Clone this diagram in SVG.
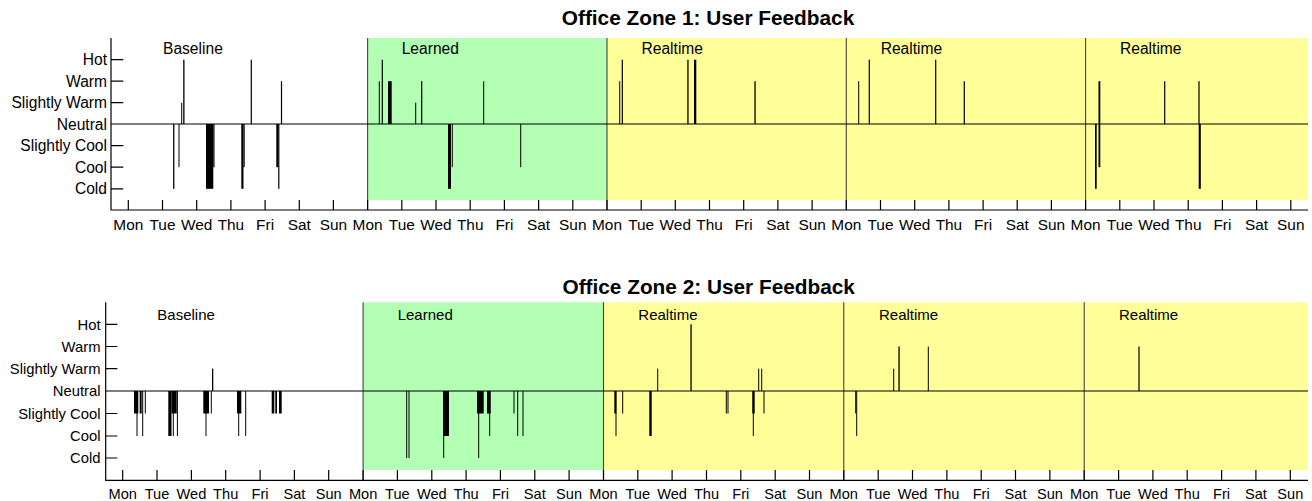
<svg xmlns="http://www.w3.org/2000/svg" width="1312" height="501" viewBox="0 0 1312 501">
<style>
text{font-family:"Liberation Sans",Arial,sans-serif;fill:#000}
.title{font-weight:bold;font-size:20.8px;text-anchor:middle}
.yl1{font-size:15.6px;text-anchor:end}
.xl1{font-size:15.4px;text-anchor:middle}
.yl2{font-size:14.8px;text-anchor:end}
.xl2{font-size:14.6px;text-anchor:middle}
.ph1{font-size:15.6px}
.ph2{font-size:15px}
.ax{stroke:#000;stroke-width:1.2;fill:none}
.sep{stroke:#444;stroke-width:1.1;fill:none}
.green{fill:#b3ffb3}
.yellow{fill:#ffff99}
.bars rect{fill:#000}
</style>

<g id="zone1">
  <text class="title" x="708" y="25">Office Zone 1: User Feedback</text>
  <g id="zone1-bg">
    <rect class="green" x="367.6" y="38" width="239.4" height="162"/>
    <rect class="yellow" x="607" y="38" width="701" height="162"/>
  </g>
  <g id="zone1-phases">
    <text class="ph1" x="163" y="54">Baseline</text>
    <text class="ph1" x="401.7" y="54">Learned</text>
    <text class="ph1" x="641.5" y="54">Realtime</text>
    <text class="ph1" x="880.7" y="54">Realtime</text>
    <text class="ph1" x="1120" y="54">Realtime</text>
  </g>
  <g id="zone1-bars" class="bars">
    <rect x="173.1" y="124" width="1.3" height="64.8"/>
    <rect x="178.5" y="124" width="1" height="43.2"/>
    <rect x="181.2" y="102.7" width="1" height="21.3"/>
    <rect x="183.2" y="59.7" width="1.3" height="64.3"/>
    <rect x="206" y="124" width="7.3" height="64.8"/>
    <rect x="213.3" y="124" width="1.2" height="43.2"/>
    <rect x="241.3" y="124" width="2.2" height="64.8"/>
    <rect x="243.5" y="124" width="1.2" height="43.2"/>
    <rect x="250.7" y="59.7" width="1.2" height="64.3"/>
    <rect x="276.3" y="124" width="2" height="43.2"/>
    <rect x="278.2" y="124" width="1.2" height="64.8"/>
    <rect x="280.9" y="81.2" width="1.2" height="42.8"/>
    <rect x="378.8" y="81.2" width="1" height="42.8"/>
    <rect x="381.7" y="59.7" width="1.2" height="64.3"/>
    <rect x="388" y="81.2" width="3.7" height="42.8"/>
    <rect x="415.2" y="102.7" width="1" height="21.3"/>
    <rect x="421" y="81.2" width="1.3" height="42.8"/>
    <rect x="448" y="124" width="3" height="64.8"/>
    <rect x="451.8" y="124" width="1" height="43.2"/>
    <rect x="483.2" y="81.2" width="1" height="42.8"/>
    <rect x="520.2" y="124" width="1" height="43.2"/>
    <rect x="619.2" y="81.2" width="1" height="42.8"/>
    <rect x="621.7" y="59.7" width="1.2" height="64.3"/>
    <rect x="687.3" y="59.7" width="1.3" height="64.3"/>
    <rect x="694" y="59.7" width="2.3" height="64.3"/>
    <rect x="754.4" y="81.2" width="1.3" height="42.8"/>
    <rect x="858.2" y="81.2" width="1" height="42.8"/>
    <rect x="868.7" y="59.7" width="1.2" height="64.3"/>
    <rect x="935.1" y="59.7" width="1.2" height="64.3"/>
    <rect x="963.7" y="81.2" width="1.2" height="42.8"/>
    <rect x="1095" y="124" width="1.7" height="64.8"/>
    <rect x="1098.5" y="81.2" width="1.8" height="86"/>
    <rect x="1164.1" y="81.2" width="1.2" height="42.8"/>
    <rect x="1198.4" y="81.2" width="1.2" height="42.8"/>
    <rect x="1198.7" y="124" width="2.1" height="64.8"/>
  </g>
  <g id="zone1-axes">
    <path class="sep" d="M367.6 38V210M607 38V210M846.3 38V210M1085.6 38V210"/>
    <path class="ax" d="M111 38V210H1308M111 124H1308"/>
    <path class="ax" d="M111 59.7H123.3M111 81.2H123.3M111 102.7H123.3M111 145.6H123.3M111 167.2H123.3M111 188.8H123.3"/>
    <path class="ax" d="M128.3 200V210M162.5 200V210M196.7 200V210M230.9 200V210M265.1 200V210M299.3 200V210M333.4 200V210M367.6 200V210M401.8 200V210M436 200V210M470.2 200V210M504.4 200V210M538.6 200V210M572.8 200V210M607 200V210M641.2 200V210M675.3 200V210M709.5 200V210M743.7 200V210M777.9 200V210M812.1 200V210M846.3 200V210M880.5 200V210M914.7 200V210M948.9 200V210M983.1 200V210M1017.2 200V210M1051.4 200V210M1085.6 200V210M1119.8 200V210M1154 200V210M1188.2 200V210M1222.4 200V210M1256.6 200V210M1290.8 200V210"/>
  </g>
  <g id="zone1-ylabels">
    <text class="yl1" x="107" y="65.3">Hot</text>
    <text class="yl1" x="107" y="86.8">Warm</text>
    <text class="yl1" x="107" y="108.3">Slightly Warm</text>
    <text class="yl1" x="107" y="129.6">Neutral</text>
    <text class="yl1" x="107" y="151.2">Slightly Cool</text>
    <text class="yl1" x="107" y="172.8">Cool</text>
    <text class="yl1" x="107" y="194.4">Cold</text>
  </g>
  <g id="zone1-xlabels">
    <text class="xl1" x="128.3" y="229.5">Mon</text><text class="xl1" x="162.5" y="229.5">Tue</text><text class="xl1" x="196.7" y="229.5">Wed</text><text class="xl1" x="230.9" y="229.5">Thu</text><text class="xl1" x="265.1" y="229.5">Fri</text><text class="xl1" x="299.3" y="229.5">Sat</text><text class="xl1" x="333.4" y="229.5">Sun</text>
    <text class="xl1" x="367.6" y="229.5">Mon</text><text class="xl1" x="401.8" y="229.5">Tue</text><text class="xl1" x="436" y="229.5">Wed</text><text class="xl1" x="470.2" y="229.5">Thu</text><text class="xl1" x="504.4" y="229.5">Fri</text><text class="xl1" x="538.6" y="229.5">Sat</text><text class="xl1" x="572.8" y="229.5">Sun</text>
    <text class="xl1" x="607" y="229.5">Mon</text><text class="xl1" x="641.2" y="229.5">Tue</text><text class="xl1" x="675.3" y="229.5">Wed</text><text class="xl1" x="709.5" y="229.5">Thu</text><text class="xl1" x="743.7" y="229.5">Fri</text><text class="xl1" x="777.9" y="229.5">Sat</text><text class="xl1" x="812.1" y="229.5">Sun</text>
    <text class="xl1" x="846.3" y="229.5">Mon</text><text class="xl1" x="880.5" y="229.5">Tue</text><text class="xl1" x="914.7" y="229.5">Wed</text><text class="xl1" x="948.9" y="229.5">Thu</text><text class="xl1" x="983.1" y="229.5">Fri</text><text class="xl1" x="1017.2" y="229.5">Sat</text><text class="xl1" x="1051.4" y="229.5">Sun</text>
    <text class="xl1" x="1085.6" y="229.5">Mon</text><text class="xl1" x="1119.8" y="229.5">Tue</text><text class="xl1" x="1154" y="229.5">Wed</text><text class="xl1" x="1188.2" y="229.5">Thu</text><text class="xl1" x="1222.4" y="229.5">Fri</text><text class="xl1" x="1256.6" y="229.5">Sat</text><text class="xl1" x="1290.8" y="229.5">Sun</text>
  </g>
</g>

<g id="zone2">
  <text class="title" x="708.7" y="294">Office Zone 2: User Feedback</text>
  <g id="zone2-bg">
    <rect class="green" x="363.1" y="302.3" width="240.4" height="167.7"/>
    <rect class="yellow" x="603.5" y="302.3" width="704.5" height="167.7"/>
  </g>
  <g id="zone2-phases">
    <text class="ph2" x="157.3" y="320">Baseline</text>
    <text class="ph2" x="397.7" y="320">Learned</text>
    <text class="ph2" x="638.3" y="320">Realtime</text>
    <text class="ph2" x="879" y="320">Realtime</text>
    <text class="ph2" x="1119" y="320">Realtime</text>
  </g>
  <g id="zone2-bars" class="bars">
    <rect x="134" y="391" width="4.3" height="22.5"/>
    <rect x="136.5" y="391" width="1" height="45"/>
    <rect x="139.7" y="391" width="2" height="22.5"/>
    <rect x="142.2" y="391" width="1" height="45"/>
    <rect x="144.8" y="391" width="1" height="22.5"/>
    <rect x="168.3" y="391" width="3.2" height="45"/>
    <rect x="171.5" y="391" width="5.2" height="22.5"/>
    <rect x="172.8" y="391" width="1" height="45"/>
    <rect x="176.9" y="391" width="1" height="45"/>
    <rect x="203.3" y="391" width="5.7" height="22.5"/>
    <rect x="205.5" y="391" width="1" height="45"/>
    <rect x="210.8" y="391" width="1" height="22.5"/>
    <rect x="212" y="368.6" width="1.3" height="22.4"/>
    <rect x="237" y="391" width="4.3" height="22.5"/>
    <rect x="238.2" y="391" width="1" height="45"/>
    <rect x="245.2" y="391" width="1" height="45"/>
    <rect x="271.7" y="391" width="2.6" height="22.5"/>
    <rect x="275.3" y="391" width="1.7" height="22.5"/>
    <rect x="279" y="391" width="2.7" height="22.5"/>
    <rect x="406.2" y="391" width="1" height="67"/>
    <rect x="408.5" y="391" width="1" height="67"/>
    <rect x="443.3" y="391" width="5.7" height="45"/>
    <rect x="443.2" y="391" width="1" height="67"/>
    <rect x="477" y="391" width="6.7" height="22.5"/>
    <rect x="478.2" y="391" width="1" height="67"/>
    <rect x="487" y="391" width="3.7" height="22.5"/>
    <rect x="489.2" y="391" width="1" height="45"/>
    <rect x="513.5" y="391" width="1" height="22.5"/>
    <rect x="517.2" y="391" width="1" height="45"/>
    <rect x="522.5" y="391" width="1" height="45"/>
    <rect x="614.3" y="391" width="2" height="22.5"/>
    <rect x="615.5" y="391" width="1" height="45"/>
    <rect x="622.2" y="391" width="1" height="22.5"/>
    <rect x="649.3" y="391" width="2.4" height="45"/>
    <rect x="657.2" y="368.6" width="1" height="22.4"/>
    <rect x="690.4" y="324.3" width="1.3" height="66.7"/>
    <rect x="725.8" y="391" width="1" height="22.5"/>
    <rect x="727.5" y="391" width="1" height="22.5"/>
    <rect x="752.3" y="391" width="2.4" height="22.5"/>
    <rect x="752.8" y="391" width="1" height="45"/>
    <rect x="758.2" y="368.6" width="1" height="22.4"/>
    <rect x="761.2" y="368.6" width="1" height="22.4"/>
    <rect x="763.5" y="391" width="1" height="22.5"/>
    <rect x="855.2" y="391" width="1" height="22.5"/>
    <rect x="856.2" y="391" width="1" height="45"/>
    <rect x="893.2" y="368.6" width="1" height="22.4"/>
    <rect x="898.4" y="346.5" width="1.3" height="44.5"/>
    <rect x="927.8" y="346.5" width="1" height="44.5"/>
    <rect x="1138.4" y="346.5" width="1.2" height="44.5"/>
  </g>
  <g id="zone2-axes">
    <path class="sep" d="M363.1 302.3V480.3M603.5 302.3V480.3M843.8 302.3V480.3M1084.2 302.3V480.3"/>
    <path class="ax" d="M105.7 302.3V480.3H1308M105.7 391H1308"/>
    <path class="ax" d="M105.7 324.3H117.3M105.7 346.5H117.3M105.7 368.6H117.3M105.7 413.5H117.3M105.7 436H117.3M105.7 458H117.3"/>
    <path class="ax" d="M122.7 470V480.3M157 470V480.3M191.4 470V480.3M225.7 470V480.3M260.1 470V480.3M294.4 470V480.3M328.7 470V480.3M363.1 470V480.3M397.4 470V480.3M431.8 470V480.3M466.1 470V480.3M500.4 470V480.3M534.8 470V480.3M569.1 470V480.3M603.5 470V480.3M637.8 470V480.3M672.1 470V480.3M706.5 470V480.3M740.8 470V480.3M775.2 470V480.3M809.5 470V480.3M843.8 470V480.3M878.2 470V480.3M912.5 470V480.3M946.9 470V480.3M981.2 470V480.3M1015.5 470V480.3M1049.9 470V480.3M1084.2 470V480.3M1118.6 470V480.3M1152.9 470V480.3M1187.2 470V480.3M1221.6 470V480.3M1255.9 470V480.3M1290.3 470V480.3"/>
  </g>
  <g id="zone2-ylabels">
    <text class="yl2" x="100.5" y="329.6">Hot</text>
    <text class="yl2" x="100.5" y="351.8">Warm</text>
    <text class="yl2" x="100.5" y="373.9">Slightly Warm</text>
    <text class="yl2" x="100.5" y="396.3">Neutral</text>
    <text class="yl2" x="100.5" y="418.8">Slightly Cool</text>
    <text class="yl2" x="100.5" y="441.3">Cool</text>
    <text class="yl2" x="100.5" y="463.3">Cold</text>
  </g>
  <g id="zone2-xlabels">
    <text class="xl2" x="122.7" y="498.5">Mon</text><text class="xl2" x="157" y="498.5">Tue</text><text class="xl2" x="191.4" y="498.5">Wed</text><text class="xl2" x="225.7" y="498.5">Thu</text><text class="xl2" x="260.1" y="498.5">Fri</text><text class="xl2" x="294.4" y="498.5">Sat</text><text class="xl2" x="328.7" y="498.5">Sun</text>
    <text class="xl2" x="363.1" y="498.5">Mon</text><text class="xl2" x="397.4" y="498.5">Tue</text><text class="xl2" x="431.8" y="498.5">Wed</text><text class="xl2" x="466.1" y="498.5">Thu</text><text class="xl2" x="500.4" y="498.5">Fri</text><text class="xl2" x="534.8" y="498.5">Sat</text><text class="xl2" x="569.1" y="498.5">Sun</text>
    <text class="xl2" x="603.5" y="498.5">Mon</text><text class="xl2" x="637.8" y="498.5">Tue</text><text class="xl2" x="672.1" y="498.5">Wed</text><text class="xl2" x="706.5" y="498.5">Thu</text><text class="xl2" x="740.8" y="498.5">Fri</text><text class="xl2" x="775.2" y="498.5">Sat</text><text class="xl2" x="809.5" y="498.5">Sun</text>
    <text class="xl2" x="843.8" y="498.5">Mon</text><text class="xl2" x="878.2" y="498.5">Tue</text><text class="xl2" x="912.5" y="498.5">Wed</text><text class="xl2" x="946.9" y="498.5">Thu</text><text class="xl2" x="981.2" y="498.5">Fri</text><text class="xl2" x="1015.5" y="498.5">Sat</text><text class="xl2" x="1049.9" y="498.5">Sun</text>
    <text class="xl2" x="1084.2" y="498.5">Mon</text><text class="xl2" x="1118.6" y="498.5">Tue</text><text class="xl2" x="1152.9" y="498.5">Wed</text><text class="xl2" x="1187.2" y="498.5">Thu</text><text class="xl2" x="1221.6" y="498.5">Fri</text><text class="xl2" x="1255.9" y="498.5">Sat</text><text class="xl2" x="1290.3" y="498.5">Sun</text>
  </g>
</g>
</svg>
